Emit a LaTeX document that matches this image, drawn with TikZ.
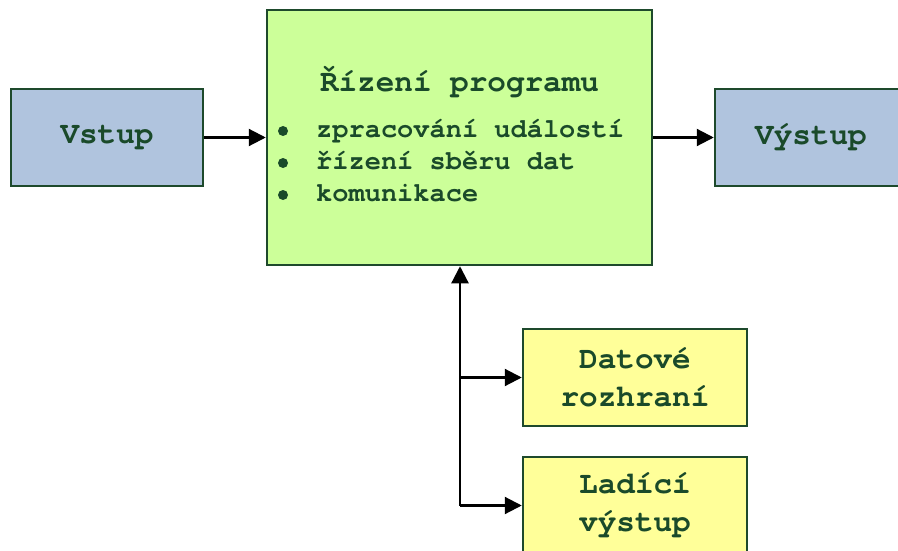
\documentclass[tikz,border=0pt]{standalone}
\usepackage{fontspec}
\setmonofont{texgyrecursor}[Extension=.otf, UprightFont=*-regular, BoldFont=*-bold]
\usetikzlibrary{arrows.meta}
\definecolor{edge}{HTML}{1E4A2C}
\definecolor{ink}{HTML}{1A4A2A}
\definecolor{steel}{HTML}{B0C4DE}
\definecolor{lime}{HTML}{CCFF99}
\definecolor{lemon}{HTML}{FFFF99}
\tikzset{
  box/.style={draw=edge, line width=2.5pt, inner sep=0pt, text=ink,
    font=\ttfamily\bfseries\fontsize{31}{37.7}\selectfont, align=center},
  sidebox/.style={box, fill=steel, minimum width=192pt, minimum height=97pt},
  subbox/.style={box, fill=lemon, minimum width=224pt, minimum height=97pt},
  label/.style={inner sep=0pt, text=ink, font=\ttfamily\bfseries\fontsize{31}{37}\selectfont},
  item/.style={inner sep=0pt, anchor=base west, text=ink, font=\ttfamily\bfseries\fontsize{27}{32}\selectfont},
  dot/.style={circle, fill=ink, inner sep=0pt, minimum size=10pt},
  link/.style={line width=2.2pt, -{Triangle[length=17pt,width=17pt]}},
}
\begin{document}
\begin{tikzpicture}[x=1pt,y=-1pt]
\useasboundingbox (0,0) rectangle (898,551);
\clip (0,0) rectangle (898,551);

% main control block with its list
\node[box, fill=lime, minimum width=385pt, minimum height=255pt] (main) at (459.5,137.5) {};
\node[label, anchor=base] (title) at (459.5,92) {Řízení programu};
\node[dot] (d1) at (283,131) {};
\node[dot] (d2) at (283,163) {};
\node[dot] (d3) at (283,195) {};
\node[item] (i1) at (316,137) {zpracování událostí};
\node[item] (i2) at (316,169) {řízení sběru dat};
\node[item] (i3) at (316,201) {komunikace};

% input / output
\node[sidebox] (in) at (107,137.5) {Vstup};
\node[sidebox] (out) at (811,137.5) {Výstup};

% attached blocks
\node[subbox] (data) at (635,377.5) {Datové\\rozhraní};
\node[subbox] (dbg) at (635,505.5) {Ladící\\výstup};

% connectors
\draw[link] (in.east) -- (main.west);
\draw[link] (main.east) -- (out.west);
\coordinate (trunk) at (460,505.5);
\draw[link] (trunk) -- (trunk |- main.south);
\draw[link] (trunk |- data.west) -- (data.west);
\draw[link] (trunk) -- (dbg.west);
\end{tikzpicture}
\end{document}
